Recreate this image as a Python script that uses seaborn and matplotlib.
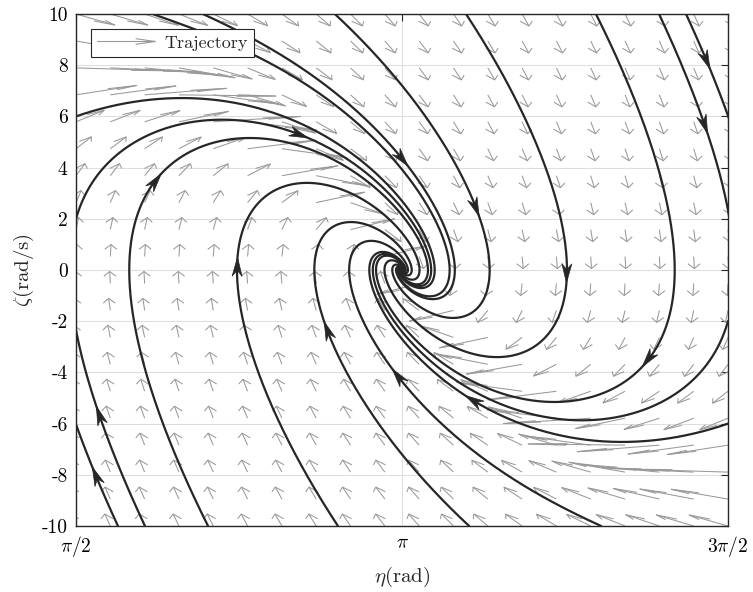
import numpy as np
import pandas as pd
import matplotlib
matplotlib.use("Agg")
import matplotlib.pyplot as plt
import seaborn as sns
from matplotlib.collections import LineCollection
from matplotlib.legend_handler import HandlerBase
from matplotlib.lines import Line2D
from matplotlib.patches import Polygon
from matplotlib.transforms import IdentityTransform

# ---------------- data ----------------
GAIN_SIN = 77.0      # zeta' = GAIN_SIN*sin(eta) - DAMPING*zeta
DAMPING = 10.0
eta_lim = [np.pi / 2, 3 * np.pi / 2]
zeta_lim = [-10, 10]
xtick_vals = [np.pi / 2, np.pi, 3 * np.pi / 2]
xtick_labels = [r"$\pi/2$", r"$\pi$", r"$3\pi/2$"]
ytick_vals = [-10, -8, -6, -4, -2, 0, 2, 4, 6, 8, 10]
ytick_labels = ["-10", "-8", "-6", "-4", "-2", "0", "2", "4", "6", "8", "10"]

# trajectory start points
start_eta = [1.5708, 1.5708, 4.7124, 4.7124,
             1.773, 1.903, 2.207, 2.833, 3.465, 4.101,
             4.510, 4.380, 4.076, 3.450, 2.818, 2.182, 1.94]
start_zeta = [6.0, 2.0, -6.0, -2.0,
              -10, -10, -10, -10, -10, -10,
              10, 10, 10, 10, 10, 10, 10]

# approximate locations of the direction arrows on trajectories
arrow_eta = [2.650, 3.147, 1.942, 2.347, 2.780, 3.118, 1.696, 1.677,
             3.503, 3.937, 4.588, 4.602, 4.337, 3.479]
arrow_zeta = [5.39, 4.41, 3.52, 0.12, -2.4, -4.2, -5.66, -8.1,
              2.46, -0.12, 5.66, 8.2, -3.52, -5.2]

grid_n = 20

# ---------------- style ----------------
sns.set_style("white")
plt.rcParams["font.family"] = ["cmr10", "DejaVu Serif"]
plt.rcParams["mathtext.fontset"] = "cm"
plt.rcParams["axes.unicode_minus"] = False
plt.rcParams["axes.formatter.use_mathtext"] = True

DARK = (0.15, 0.15, 0.15)
GREY = (0.6, 0.6, 0.6)


def field(e, z):
    return z, GAIN_SIN * np.sin(e) - DAMPING * z


def integrate(e0, z0, dt=5e-4, tmax=4.0):
    s = np.array([e0, z0], dtype=float)
    out = [s.copy()]
    def f(p):
        a, b = field(p[0], p[1])
        return np.array([a, b])
    for _ in range(int(tmax / dt)):
        k1 = f(s)
        k2 = f(s + 0.5 * dt * k1)
        k3 = f(s + 0.5 * dt * k2)
        k4 = f(s + dt * k3)
        s = s + dt / 6 * (k1 + 2 * k2 + 2 * k3 + k4)
        out.append(s.copy())
        if (s[0] < eta_lim[0] - 0.02 or s[0] > eta_lim[1] + 0.02
                or abs(s[1]) > 10.3):
            break
        if abs(s[0] - np.pi) < 2e-4 and abs(s[1]) < 2e-3:
            break
    return np.array(out)


trajs = [integrate(e, z) for e, z in zip(start_eta, start_zeta)]
frames = []
for i, tr in enumerate(trajs):
    frames.append(pd.DataFrame({"eta": tr[:, 0], "zeta": tr[:, 1], "traj": i}))
df = pd.concat(frames, ignore_index=True)

# ---------------- figure ----------------
fig = plt.figure(figsize=(7.53, 5.92), dpi=100)
ax = fig.add_axes([76 / 753, 1 - 526 / 592, 652 / 753, 512 / 592])
ax.set_xlim(eta_lim)
ax.set_ylim(zeta_lim)

# grid
for xv in xtick_vals:
    ax.axvline(xv, color=(0.87, 0.87, 0.87), lw=0.8, zorder=0)
for yv in ytick_vals:
    ax.axhline(yv, color=(0.87, 0.87, 0.87), lw=0.8, zorder=0)

# quiver (MATLAB-like, normalised vectors, heads in data units)
ge = np.linspace(eta_lim[0], eta_lim[1], grid_n)
gz = np.linspace(zeta_lim[0], zeta_lim[1], grid_n)
E, Z = np.meshgrid(ge, gz)
U, V = field(E, Z)
M = np.hypot(U, V)
L = 0.47
U = U / M * L
V = V / M * L
alpha, beta = 0.4, 0.155
segs = []
for x, y, u, v in zip(E.ravel(), Z.ravel(), U.ravel(), V.ravel()):
    tip = (x + u, y + v)
    segs.append([(x, y), tip])
    segs.append([(x + u - alpha * (u + beta * v), y + v - alpha * (v - beta * u)),
                 tip,
                 (x + u - alpha * (u - beta * v), y + v - alpha * (v + beta * u))])
ax.add_collection(LineCollection(segs, colors=[GREY], linewidths=0.75, zorder=1))

# trajectories
sns.lineplot(data=df, x="eta", y="zeta", units="traj", estimator=None, sort=False,
             color=DARK, lw=1.6, ax=ax, legend=False, zorder=3)

# direction arrows on trajectories (stealth-shaped, drawn in display space)
sx, sy = 207.5, 25.6
HEAD_LEN, HEAD_HALF_W, NOTCH = 19.0, 5.0, 13.0
for ea, za in zip(arrow_eta, arrow_zeta):
    best = None
    for tr in trajs:
        d = np.hypot((tr[:, 0] - ea) * sx, (tr[:, 1] - za) * sy)
        j = int(np.argmin(d))
        if best is None or d[j] < best[0]:
            best = (d[j], tr, j)
    _, tr, j = best
    disp = ax.transData.transform(tr)
    seg = np.hypot(np.diff(disp[:, 0]), np.diff(disp[:, 1]))
    arc = np.concatenate([[0], np.cumsum(seg)])
    jt = min(int(np.searchsorted(arc, arc[j] + HEAD_LEN / 2)), len(tr) - 1)
    jb = int(np.searchsorted(arc, arc[j] - HEAD_LEN / 2))
    tip = disp[jt]
    back = disp[jb]
    dvec = tip - back
    dvec = dvec / np.hypot(*dvec)
    nvec = np.array([-dvec[1], dvec[0]])
    pts = [tip,
           tip - HEAD_LEN * dvec + HEAD_HALF_W * nvec,
           tip - NOTCH * dvec,
           tip - HEAD_LEN * dvec - HEAD_HALF_W * nvec]
    ax.add_patch(Polygon(pts, closed=True, transform=IdentityTransform(),
                         facecolor=DARK, edgecolor=DARK, lw=0.5, zorder=4))

ax.set_xticks(xtick_vals)
ax.set_xticklabels(xtick_labels)
ax.set_yticks(ytick_vals)
ax.set_yticklabels(ytick_labels)
ax.tick_params(direction="in", length=5, width=0.8, colors=DARK, labelsize=14,
               top=True, right=True, labelcolor="black", pad=6)
for sp in ax.spines.values():
    sp.set_color(DARK)
    sp.set_linewidth(1.0)
    sp.set_visible(True)
ax.set_xlabel(r"$\eta$(rad)", fontsize=15, labelpad=4)
ax.set_ylabel(r"$\zeta$(rad/s)", fontsize=15, labelpad=4)


class QuiverKey:
    pass


class HandlerArrow(HandlerBase):
    def create_artists(self, legend, orig_handle, xdescent, ydescent, width,
                       height, fontsize, trans):
        y = height / 2 - ydescent
        x0, x1 = -xdescent, -xdescent + width
        hl, hw = width * 0.33, height * 0.22
        a1 = Line2D([x0, x1], [y, y], color=GREY, lw=0.8, transform=trans)
        a2 = Line2D([x1 - hl, x1, x1 - hl], [y + hw, y, y - hw], color=GREY,
                    lw=0.8, transform=trans)
        return [a1, a2]


leg = ax.legend([QuiverKey()], ["Trajectory"], handler_map={QuiverKey: HandlerArrow()},
                loc="upper left", bbox_to_anchor=(0.023, 0.971), borderaxespad=0,
                fontsize=13, handlelength=3.2, handletextpad=0.5, fancybox=False,
                framealpha=1, edgecolor=DARK, borderpad=0.35)
leg.get_frame().set_linewidth(0.8)
leg.set_zorder(10)

fig.savefig("out.png", dpi=100)
